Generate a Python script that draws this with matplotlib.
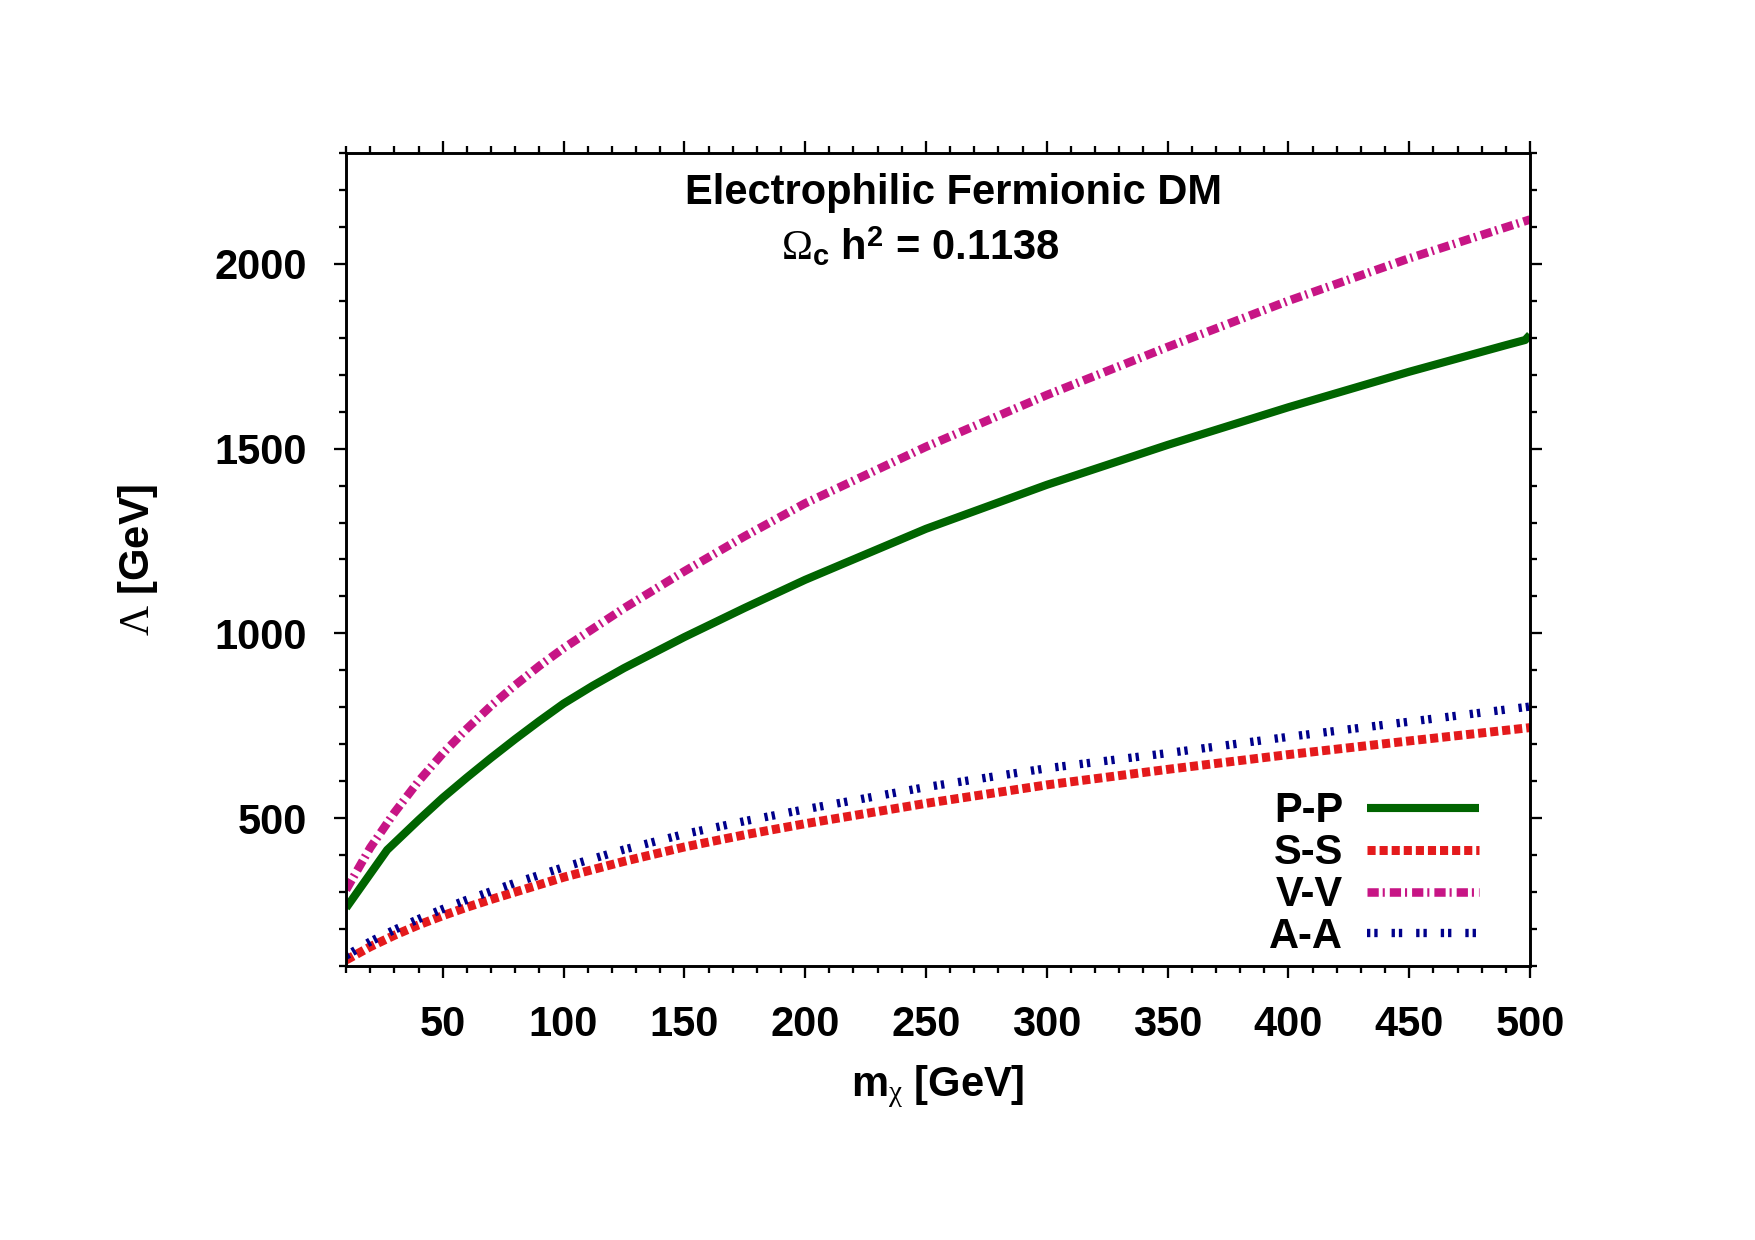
"""Electrophilic fermionic DM: relic-density cutoff scale vs DM mass."""
import matplotlib
matplotlib.use("Agg")
import matplotlib.pyplot as plt
from matplotlib.ticker import MultipleLocator

plt.rcParams["font.family"] = ["Liberation Sans", "DejaVu Sans"]
plt.rcParams["mathtext.fontset"] = "custom"
plt.rcParams["mathtext.rm"] = "Liberation Serif"
plt.rcParams["mathtext.it"] = "Liberation Serif:italic"
plt.rcParams["mathtext.bf"] = "Liberation Sans:bold"
plt.rcParams["lines.scale_dashes"] = False

# values
mass_pp = [10, 27, 40, 50, 60, 70, 80, 90, 100, 112, 125, 150, 175, 200, 250, 300, 350, 400, 450, 490, 498, 500]
lam_pp = [257, 414, 495, 555, 610, 663, 714, 763, 810, 858, 906, 990, 1069, 1145, 1283, 1402, 1510, 1612, 1708, 1780, 1794, 1808]

mass = [10, 20, 30, 40, 50, 60, 70, 80, 90, 100, 125, 150, 175, 200, 250, 300, 350, 400, 450, 500]
lam_ss = [116, 152, 183, 211, 236, 259, 280, 300, 320, 340, 383, 422, 455, 485, 540, 590, 632, 672, 709, 745]
lam_vv = [306, 420, 515, 600, 675, 742, 804, 860, 912, 960, 1068, 1168, 1263, 1352, 1505, 1645, 1775, 1900, 2015, 2120]
lam_aa = [128, 166, 198, 227, 254, 279, 302, 325, 346, 367, 415, 457, 492, 524, 584, 635, 676, 720, 761, 802]

xticks = [50, 100, 150, 200, 250, 300, 350, 400, 450, 500]
yticks = [500, 1000, 1500, 2000]

FS = 20

fig = plt.figure(figsize=(11.7, 8.2667), dpi=150)
ax = fig.add_axes([0.1972, 0.2210, 0.6746, 0.6556])

ax.plot(mass_pp, lam_pp, color="#006400", lw=3.9, solid_capstyle="butt", label="P-P")
ax.plot(mass, lam_ss, color="#e41a1c", lw=4.3, dashes=(3.9, 1.9), label="S-S")
ax.plot(mass, lam_vv, color="#c71585", lw=4.1, dashes=(5.4, 1.9, 1.0, 2.4), label="V-V")
ax.plot(mass, lam_aa, color="#00008b", lw=4.0, dashes=(1.6, 1.9, 1.6, 6.7), label="A-A")

ax.set_xlim(10, 500)
ax.set_ylim(100, 2300)
ax.set_xticks(xticks)
ax.set_yticks(yticks)
ax.xaxis.set_minor_locator(MultipleLocator(10))
ax.yaxis.set_minor_locator(MultipleLocator(100))
ax.tick_params(which="both", direction="out", top=True, right=True, width=1.1,
               labelsize=FS)
ax.tick_params(which="major", length=5.9, pad=13)
ax.tick_params(which="minor", length=3.2)
for lbl in ax.get_xticklabels() + ax.get_yticklabels():
    lbl.set_fontweight("bold")
for sp in ax.spines.values():
    sp.set_linewidth(1.4)

ax.set_xlabel(r"m$_{\mathrm{\chi}}$ [GeV]", fontsize=FS, fontweight="bold", labelpad=9)
ax.set_ylabel(r"$\mathrm{\Lambda}$ [GeV]", fontsize=FS, fontweight="bold", labelpad=26)

ax.text(0.513, 0.951, "Electrophilic Fermionic DM", transform=ax.transAxes,
        ha="center", va="center", fontsize=FS, fontweight="bold")
ax.text(0.485, 0.884, r"$\mathrm{\Omega}_{\mathbf{c}}$ h$^{\mathbf{2}}$ = 0.1138",
        transform=ax.transAxes, ha="center", va="center", fontsize=FS, fontweight="bold")

ax.legend(loc="lower right", bbox_to_anchor=(0.957, 0.011), markerfirst=False,
          frameon=False, prop={"weight": "bold", "size": FS}, handlelength=2.7,
          handletextpad=0.56, labelspacing=0.045, borderpad=0, borderaxespad=0)

fig.savefig("out.png", dpi=150)
